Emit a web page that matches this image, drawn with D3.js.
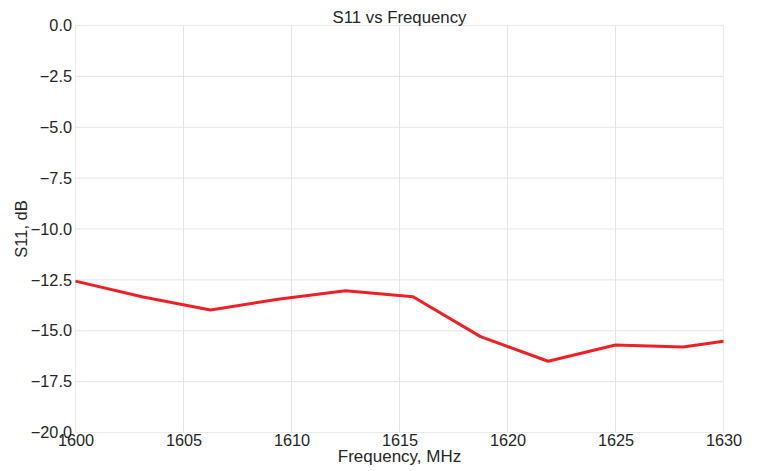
<!DOCTYPE html>
<html><head><meta charset="utf-8">
<script src="https://cdn.jsdelivr.net/npm/d3@7"></script>
<style>body{margin:0;background:#fff;} text{font-family:"Liberation Sans",Arial,sans-serif;fill:#262626;}</style>
</head><body>
<svg id="c" width="759" height="471"></svg>
<script>
const freq = [1600, 1603.125, 1606.25, 1609.375, 1612.5, 1615.625, 1618.75, 1621.875, 1625, 1628.125, 1630];
const s11 = [-12.56, -13.34, -13.98, -13.45, -13.03, -13.33, -15.29, -16.50, -15.70, -15.80, -15.52];
const xTicks = [1600, 1605, 1610, 1615, 1620, 1625, 1630];
const yTicks = [0, -2.5, -5, -7.5, -10, -12.5, -15, -17.5, -20];
const title = "S11 vs Frequency";
const xLabel = "Frequency, MHz";
const yLabel = "S11, dB";

const L = 75.5, R = 723.5, T = 25.5, B = 432.5;
const svg = d3.select("#c");
const x = d3.scaleLinear().domain([1600, 1630]).range([L, R]);
const y = d3.scaleLinear().domain([-20, 0]).range([B, T]);
const fmtY = d => (d < 0 ? "\u2212" : "") + Math.abs(d).toFixed(1);

// grid
svg.append("g").selectAll("line").data(xTicks).join("line")
  .attr("x1", d => x(d)).attr("x2", d => x(d)).attr("y1", T).attr("y2", B)
  .attr("stroke", "#e3e3e3").attr("stroke-width", 1);
svg.append("g").selectAll("line").data(yTicks).join("line")
  .attr("x1", L).attr("x2", R).attr("y1", d => y(d)).attr("y2", d => y(d))
  .attr("stroke", "#e3e3e3").attr("stroke-width", 1);
svg.append("rect").attr("x", L).attr("y", T).attr("width", R - L).attr("height", B - T)
  .attr("fill", "none").attr("stroke", "#ebebeb").attr("stroke-width", 1.2);

// axes (labels only)
const xAxis = svg.append("g").attr("transform", `translate(0,${B})`)
  .call(d3.axisBottom(x).tickValues(xTicks).tickSize(0).tickPadding(2).tickFormat(d3.format("d")));
const yAxis = svg.append("g").attr("transform", `translate(${L},0)`)
  .call(d3.axisLeft(y).tickValues(yTicks).tickSize(0).tickPadding(3.5).tickFormat(fmtY));
[xAxis, yAxis].forEach(a => {
  a.select(".domain").remove();
  a.selectAll("text").attr("font-size", "16.3px").attr("fill", "#262626")
   .style("font-family", '"Liberation Sans",Arial,sans-serif');
});

// line
svg.append("path").datum(freq.map((f, i) => [f, s11[i]]))
  .attr("d", d3.line().x(d => x(d[0])).y(d => y(d[1])))
  .attr("fill", "none").attr("stroke", "#ee2026").attr("stroke-width", 3)
  .attr("stroke-linejoin", "round");

// texts
svg.append("text").attr("x", (L + R) / 2).attr("y", 23).attr("text-anchor", "middle")
  .attr("font-size", "16.8px").text(title);
svg.append("text").attr("x", (L + R) / 2).attr("y", 462).attr("text-anchor", "middle")
  .attr("font-size", "17px").text(xLabel);
svg.append("text").attr("transform", `translate(27,${(T + B) / 2}) rotate(-90)`)
  .attr("text-anchor", "middle").attr("font-size", "16.5px").text(yLabel);
</script>
</body></html>
